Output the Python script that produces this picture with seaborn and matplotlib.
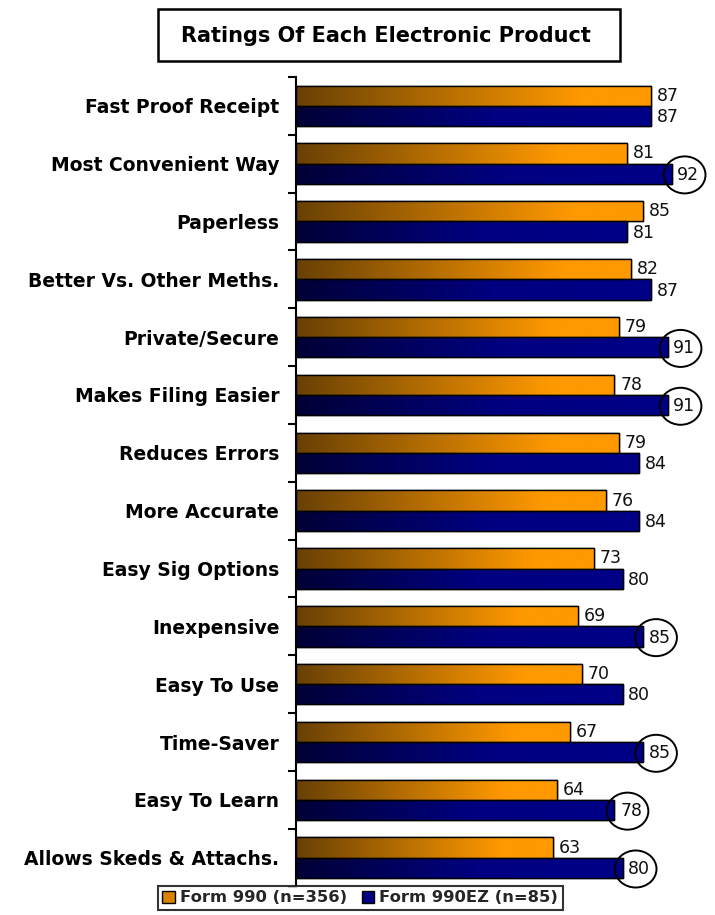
import numpy as np
import pandas as pd
import matplotlib
matplotlib.use("Agg")
import matplotlib.pyplot as plt
import seaborn as sns
from matplotlib.patches import Rectangle, Ellipse, Patch
from matplotlib.colors import LinearSegmentedColormap

categories = ["Fast Proof Receipt", "Most Convenient Way", "Paperless",
              "Better Vs. Other Meths.", "Private/Secure", "Makes Filing Easier",
              "Reduces Errors", "More Accurate", "Easy Sig Options", "Inexpensive",
              "Easy To Use", "Time-Saver", "Easy To Learn", "Allows Skeds & Attachs."]
form990 = [87, 81, 85, 82, 79, 78, 79, 76, 73, 69, 70, 67, 64, 63]
form990ez = [87, 92, 81, 87, 91, 91, 84, 84, 80, 85, 80, 85, 78, 80]
circled_ez = [False, True, False, False, True, True, False, False, False, True, False, True, True, True]
series_names = ["Form 990 (n=356)", "Form 990EZ (n=85)"]
title = "Ratings Of Each Electronic Product"

df = pd.DataFrame({
    "cat": categories * 2,
    "val": form990 + form990ez,
    "series": [series_names[0]] * len(categories) + [series_names[1]] * len(categories),
})

sns.set_theme(style="white")
plt.rcParams["font.family"] = ["DejaVu Sans"]

fig = plt.figure(figsize=(7.15, 9.15), dpi=100)
ax = fig.add_axes([0.414, 0.031, 0.571, 0.885])

palette = {series_names[0]: "#ff9900", series_names[1]: "#000080"}
sns.barplot(data=df, y="cat", x="val", hue="series", orient="h", palette=palette,
            width=0.7, dodge=True, edgecolor="black", linewidth=1.0,
            saturation=1, legend=False, ax=ax)

cmap_or = LinearSegmentedColormap.from_list("or", [(0, "#684005"), (0.8, "#ff9900"), (1, "#ff9900")])
cmap_nv = LinearSegmentedColormap.from_list("nv", [(0, "#000036"), (0.55, "#000080"), (1, "#000088")])
grad = np.linspace(0, 1, 256).reshape(1, -1)

n = len(categories)
patches = list(ax.patches)
for i, p in enumerate(patches):
    x0, y0 = p.get_x(), p.get_y()
    w, h = p.get_width(), p.get_height()
    cmap = cmap_or if i < n else cmap_nv
    im = ax.imshow(grad, cmap=cmap, aspect="auto", extent=[x0, x0 + w, y0 + h, y0],
                   zorder=p.get_zorder() + 0.1, interpolation="bicubic")
    im.set_clip_path(p)
    ax.add_patch(Rectangle((x0, y0), w, h, fill=False, ec="black", lw=1.0,
                           zorder=p.get_zorder() + 0.2))
ax.set_xlim(0, 100)
ax.set_ylim(n - 0.5, -0.5)

# value labels
for i in range(n):
    po = patches[i]
    pn = patches[n + i]
    yo = po.get_y() + po.get_height() / 2
    yn = pn.get_y() + pn.get_height() / 2
    ax.text(form990[i] + 1.4, yo, str(form990[i]), va="center", ha="left",
            fontsize=12.5, color="#111111", zorder=10)
    ax.text(form990ez[i] + 1.4, yn + 0.02, str(form990ez[i]), va="center", ha="left",
            fontsize=12.5, color="#111111", zorder=10)
    if circled_ez[i]:
        ax.add_patch(Ellipse((form990ez[i] + 3.2, yn + 0.02), 10.2, 0.64, fill=False,
                             ec="black", lw=1.4, zorder=11, clip_on=False))

# axes styling
ax.set_xlabel("")
ax.set_ylabel("")
ax.set_xticks([])
for s in ["top", "right", "bottom"]:
    ax.spines[s].set_visible(False)
ax.spines["left"].set_color("black")
ax.spines["left"].set_linewidth(1.5)
ax.set_yticks(range(n))
ax.set_yticklabels(categories, fontsize=13.5, fontweight="bold", color="black")
ax.tick_params(axis="y", which="major", length=0, pad=12)
ax.set_yticks(np.arange(-0.5, n, 1), minor=True)
ax.tick_params(axis="y", which="minor", length=6, width=1.5, color="black", direction="out", left=True)
ax.grid(False)

# title box
fig.patches.append(Rectangle((158 / 715, 1 - 61 / 915), 462 / 715, 52 / 915,
                             transform=fig.transFigure, fill=False, ec="black", lw=1.8))
fig.text(386 / 715, 1 - 36 / 915, title, ha="center", va="center",
         fontsize=15, fontweight="bold", color="black")

# legend
handles = [Patch(facecolor="#d98200", edgecolor="black", lw=1.0),
           Patch(facecolor="#000080", edgecolor="black", lw=1.0)]
leg = fig.legend(handles, series_names, loc="center", bbox_to_anchor=(360 / 715, 1 - 898 / 915),
                 ncol=2, frameon=True, fancybox=False, edgecolor="black",
                 prop={"weight": "bold", "size": 11.8}, handlelength=0.75, handleheight=0.75,
                 handletextpad=0.3, columnspacing=0.9, borderpad=0.3, borderaxespad=0)
leg.get_frame().set_linewidth(1.5)

fig.savefig("out.png", dpi=100, facecolor="white")
